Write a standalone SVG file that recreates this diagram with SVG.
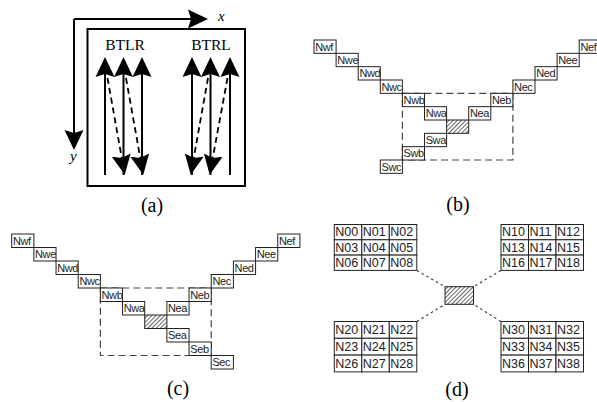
<svg xmlns="http://www.w3.org/2000/svg" width="597" height="402" viewBox="0 0 597 402">
<style>
.cap{font-family:"Liberation Serif","Times New Roman",serif;font-size:20px;fill:#000;text-anchor:middle}
.ttl{font-family:"Liberation Serif","Times New Roman",serif;font-size:15.5px;fill:#000;text-anchor:middle}
.ax{font-family:"Liberation Serif","Times New Roman",serif;font-size:15px;font-style:italic;fill:#000}
.bx rect{fill:#fff;stroke:#222;stroke-width:1}
.bx text{font-family:"Liberation Sans",Arial,sans-serif;font-size:11px;letter-spacing:-0.4px;fill:#222}
.gd rect{fill:#fff;stroke:#222;stroke-width:1}
.gd text{font-family:"Liberation Sans",Arial,sans-serif;font-size:12.5px;fill:#222}
.hat{fill:url(#hatch);stroke:#222;stroke-width:1}
.sol{stroke:#000;stroke-width:2;fill:none}
.dsh{stroke:#000;stroke-width:1.8;fill:none;stroke-dasharray:6 4}
.up{marker-end:url(#ah)}
.frame{fill:none;stroke:#444;stroke-width:1.2;stroke-dasharray:7 4}
.dot{stroke:#444;stroke-width:1.2;stroke-dasharray:2.5 3;fill:none}
</style>
<defs>
<marker id="ah" viewBox="0 0 20 20" refX="7" refY="10" markerWidth="20" markerHeight="20" markerUnits="userSpaceOnUse" orient="auto">
<path d="M0,0.5 L20,10 L0,19.5 L3,10 Z" fill="#000" stroke="none"/>
</marker>
<pattern id="hatch" width="3" height="3" patternUnits="userSpaceOnUse" patternTransform="rotate(45)">
<rect width="3" height="3" fill="#fff"/>
<line x1="0.5" y1="0" x2="0.5" y2="3" stroke="#555" stroke-width="0.9"/>
</pattern>
</defs>
<rect width="597" height="402" fill="#fff"/>

<!-- (a) -->
<g id="panel-a">
<rect x="87.5" y="29" width="157.5" height="157" fill="none" stroke="#000" stroke-width="2"/>
<text class="ttl" x="125" y="50">BTLR</text>
<text class="ttl" x="211" y="50">BTRL</text>
<text class="ax" x="218" y="21">x</text>
<text class="ax" x="70" y="161">y</text>
</g>
<g id="connectors-a">
<path class="sol up" d="M74,19 H195"/>
<path class="sol up" d="M74,19 V137"/>
<path class="sol up" d="M105,175 V70"/>
<path class="sol up" d="M123.5,175 V70"/>
<path class="sol up" d="M142,175 V70"/>
<path class="dsh up" d="M107.5,78 L122.5,162"/>
<path class="dsh up" d="M126,78 L141,162"/>
<path class="sol up" d="M192,175 V70"/>
<path class="sol up" d="M210.5,175 V70"/>
<path class="sol up" d="M230,175 V70"/>
<path class="dsh up" d="M208,78 L193,162"/>
<path class="dsh up" d="M227.5,78 L212,162"/>
</g>
<text class="cap" x="152" y="212">(a)</text>

<!-- (b) -->
<g id="frame-b"><rect class="frame" x="402.4" y="93.33" width="110.5" height="66.67"/></g>
<g id="b-Nwf" class="bx"><rect x="314" y="40" width="22.1" height="13.33"/><text x="315.2" y="50.6">Nwf</text></g>
<g id="b-Nwe" class="bx"><rect x="336.1" y="53.33" width="22.1" height="13.33"/><text x="337.3" y="63.9">Nwe</text></g>
<g id="b-Nwd" class="bx"><rect x="358.2" y="66.67" width="22.1" height="13.33"/><text x="359.4" y="77.3">Nwd</text></g>
<g id="b-Nwc" class="bx"><rect x="380.3" y="80" width="22.1" height="13.33"/><text x="381.5" y="90.6">Nwc</text></g>
<g id="b-Nwb" class="bx"><rect x="402.4" y="93.33" width="22.1" height="13.33"/><text x="403.6" y="103.9">Nwb</text></g>
<g id="b-Nwa" class="bx"><rect x="424.5" y="106.67" width="22.1" height="13.33"/><text x="425.7" y="117.3">Nwa</text></g>
<g id="b-center"><rect class="hat" x="446.6" y="120" width="22.1" height="13.33"/></g>
<g id="b-Nea" class="bx"><rect x="468.7" y="106.67" width="22.1" height="13.33"/><text x="469.9" y="117.3">Nea</text></g>
<g id="b-Neb" class="bx"><rect x="490.8" y="93.33" width="22.1" height="13.33"/><text x="492" y="103.9">Neb</text></g>
<g id="b-Nec" class="bx"><rect x="512.9" y="80" width="22.1" height="13.33"/><text x="514.1" y="90.6">Nec</text></g>
<g id="b-Ned" class="bx"><rect x="535" y="66.67" width="22.1" height="13.33"/><text x="536.2" y="77.3">Ned</text></g>
<g id="b-Nee" class="bx"><rect x="557.1" y="53.33" width="22.1" height="13.33"/><text x="558.3" y="63.9">Nee</text></g>
<g id="b-Nef" class="bx"><rect x="579.2" y="40" width="22.1" height="13.33"/><text x="580.4" y="50.6">Nef</text></g>
<g id="b-Swa" class="bx"><rect x="424.5" y="133.33" width="22.1" height="13.33"/><text x="425.7" y="143.9">Swa</text></g>
<g id="b-Swb" class="bx"><rect x="402.4" y="146.67" width="22.1" height="13.33"/><text x="403.6" y="157.3">Swb</text></g>
<g id="b-Swc" class="bx"><rect x="380.3" y="160" width="22.1" height="13.33"/><text x="381.5" y="170.6">Swc</text></g>
<text class="cap" x="458" y="211">(b)</text>

<!-- (c) -->
<g id="frame-c"><rect class="frame" x="100.38" y="288" width="110.85" height="67.5"/></g>
<g id="c-Nwf" class="bx"><rect x="11.7" y="234" width="22.17" height="13.5"/><text x="12.9" y="244.7">Nwf</text></g>
<g id="c-Nwe" class="bx"><rect x="33.87" y="247.5" width="22.17" height="13.5"/><text x="35.07" y="258.2">Nwe</text></g>
<g id="c-Nwd" class="bx"><rect x="56.04" y="261" width="22.17" height="13.5"/><text x="57.24" y="271.7">Nwd</text></g>
<g id="c-Nwc" class="bx"><rect x="78.21" y="274.5" width="22.17" height="13.5"/><text x="79.41" y="285.2">Nwc</text></g>
<g id="c-Nwb" class="bx"><rect x="100.38" y="288" width="22.17" height="13.5"/><text x="101.58" y="298.7">Nwb</text></g>
<g id="c-Nwa" class="bx"><rect x="122.55" y="301.5" width="22.17" height="13.5"/><text x="123.75" y="312.2">Nwa</text></g>
<g id="c-center"><rect class="hat" x="144.72" y="315" width="22.17" height="13.5"/></g>
<g id="c-Nea" class="bx"><rect x="166.89" y="301.5" width="22.17" height="13.5"/><text x="168.09" y="312.2">Nea</text></g>
<g id="c-Neb" class="bx"><rect x="189.06" y="288" width="22.17" height="13.5"/><text x="190.26" y="298.7">Neb</text></g>
<g id="c-Nec" class="bx"><rect x="211.23" y="274.5" width="22.17" height="13.5"/><text x="212.43" y="285.2">Nec</text></g>
<g id="c-Ned" class="bx"><rect x="233.4" y="261" width="22.17" height="13.5"/><text x="234.6" y="271.7">Ned</text></g>
<g id="c-Nee" class="bx"><rect x="255.57" y="247.5" width="22.17" height="13.5"/><text x="256.77" y="258.2">Nee</text></g>
<g id="c-Nef" class="bx"><rect x="277.74" y="234" width="22.17" height="13.5"/><text x="278.94" y="244.7">Nef</text></g>
<g id="c-Sea" class="bx"><rect x="166.89" y="328.5" width="22.17" height="13.5"/><text x="168.09" y="339.2">Sea</text></g>
<g id="c-Seb" class="bx"><rect x="189.06" y="342" width="22.17" height="13.5"/><text x="190.26" y="352.7">Seb</text></g>
<g id="c-Sec" class="bx"><rect x="211.23" y="355.5" width="22.17" height="13.5"/><text x="212.43" y="366.2">Sec</text></g>
<text class="cap" x="178" y="395">(c)</text>

<!-- (d) -->
<g id="connectors-d">
<path class="dot" d="M416.8,270.4 L445,286.7"/>
<path class="dot" d="M501,270.4 L473.5,286.7"/>
<path class="dot" d="M416.8,321.5 L445,304.3"/>
<path class="dot" d="M501,321.5 L473.5,304.3"/>
</g>
<g id="d-center"><rect class="hat" x="445" y="286.7" width="28.5" height="17.6"/></g>
<g id="d-N0" class="gd">
<rect x="334.3" y="224.5" width="27.5" height="15.3"/><text x="335.3" y="236.3">N00</text>
<rect x="361.8" y="224.5" width="27.5" height="15.3"/><text x="362.8" y="236.3">N01</text>
<rect x="389.3" y="224.5" width="27.5" height="15.3"/><text x="390.3" y="236.3">N02</text>
<rect x="334.3" y="239.8" width="27.5" height="15.3"/><text x="335.3" y="251.6">N03</text>
<rect x="361.8" y="239.8" width="27.5" height="15.3"/><text x="362.8" y="251.6">N04</text>
<rect x="389.3" y="239.8" width="27.5" height="15.3"/><text x="390.3" y="251.6">N05</text>
<rect x="334.3" y="255.1" width="27.5" height="15.3"/><text x="335.3" y="266.9">N06</text>
<rect x="361.8" y="255.1" width="27.5" height="15.3"/><text x="362.8" y="266.9">N07</text>
<rect x="389.3" y="255.1" width="27.5" height="15.3"/><text x="390.3" y="266.9">N08</text>
</g>
<g id="d-N1" class="gd">
<rect x="501" y="224.5" width="27.5" height="15.3"/><text x="502" y="236.3">N10</text>
<rect x="528.5" y="224.5" width="27.5" height="15.3"/><text x="529.5" y="236.3">N11</text>
<rect x="556" y="224.5" width="27.5" height="15.3"/><text x="557" y="236.3">N12</text>
<rect x="501" y="239.8" width="27.5" height="15.3"/><text x="502" y="251.6">N13</text>
<rect x="528.5" y="239.8" width="27.5" height="15.3"/><text x="529.5" y="251.6">N14</text>
<rect x="556" y="239.8" width="27.5" height="15.3"/><text x="557" y="251.6">N15</text>
<rect x="501" y="255.1" width="27.5" height="15.3"/><text x="502" y="266.9">N16</text>
<rect x="528.5" y="255.1" width="27.5" height="15.3"/><text x="529.5" y="266.9">N17</text>
<rect x="556" y="255.1" width="27.5" height="15.3"/><text x="557" y="266.9">N18</text>
</g>
<g id="d-N2" class="gd">
<rect x="334.3" y="321.5" width="27.5" height="16.8"/><text x="335.3" y="334.3">N20</text>
<rect x="361.8" y="321.5" width="27.5" height="16.8"/><text x="362.8" y="334.3">N21</text>
<rect x="389.3" y="321.5" width="27.5" height="16.8"/><text x="390.3" y="334.3">N22</text>
<rect x="334.3" y="338.3" width="27.5" height="16.8"/><text x="335.3" y="351.1">N23</text>
<rect x="361.8" y="338.3" width="27.5" height="16.8"/><text x="362.8" y="351.1">N24</text>
<rect x="389.3" y="338.3" width="27.5" height="16.8"/><text x="390.3" y="351.1">N25</text>
<rect x="334.3" y="355.1" width="27.5" height="16.8"/><text x="335.3" y="367.9">N26</text>
<rect x="361.8" y="355.1" width="27.5" height="16.8"/><text x="362.8" y="367.9">N27</text>
<rect x="389.3" y="355.1" width="27.5" height="16.8"/><text x="390.3" y="367.9">N28</text>
</g>
<g id="d-N3" class="gd">
<rect x="501" y="321.5" width="27.5" height="16.8"/><text x="502" y="334.3">N30</text>
<rect x="528.5" y="321.5" width="27.5" height="16.8"/><text x="529.5" y="334.3">N31</text>
<rect x="556" y="321.5" width="27.5" height="16.8"/><text x="557" y="334.3">N32</text>
<rect x="501" y="338.3" width="27.5" height="16.8"/><text x="502" y="351.1">N33</text>
<rect x="528.5" y="338.3" width="27.5" height="16.8"/><text x="529.5" y="351.1">N34</text>
<rect x="556" y="338.3" width="27.5" height="16.8"/><text x="557" y="351.1">N35</text>
<rect x="501" y="355.1" width="27.5" height="16.8"/><text x="502" y="367.9">N36</text>
<rect x="528.5" y="355.1" width="27.5" height="16.8"/><text x="529.5" y="367.9">N37</text>
<rect x="556" y="355.1" width="27.5" height="16.8"/><text x="557" y="367.9">N38</text>
</g>
<text class="cap" x="457" y="396">(d)</text>
</svg>
